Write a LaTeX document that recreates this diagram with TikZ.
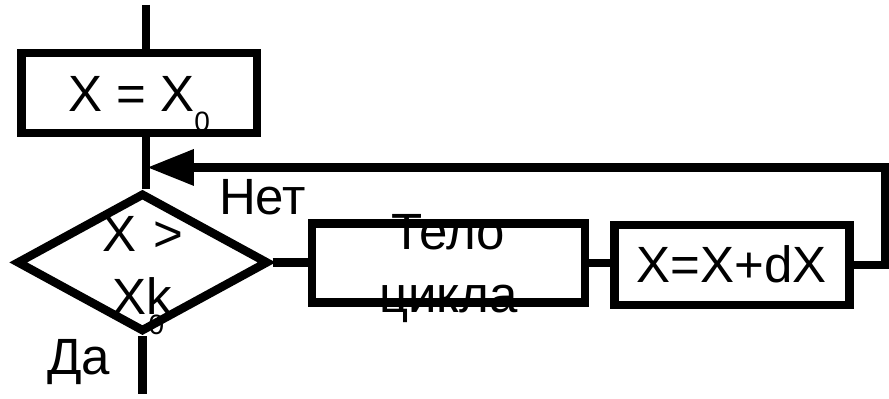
\documentclass[tikz,border=0pt]{standalone}
\usepackage{fontspec}
\setmainfont{Liberation Sans}
\usetikzlibrary{shapes.geometric,arrows.meta}
\newcommand{\subidx}[1]{\raisebox{-20pt}{\fontsize{28}{28}\selectfont #1}}
\tikzset{
  flowline/.style={line width=8.5pt},
  block/.style={draw, line width=8.5pt, inner sep=0pt, font=\fontsize{51}{63}\selectfont},
  decision/.style={draw, diamond, line width=8.5pt, inner sep=0pt},
  caption/.style={inner sep=0pt, font=\fontsize{51}{63}\selectfont},
}

\begin{document}
\begin{tikzpicture}[x=1pt, y=-1pt]
  \fill[white] (0,0) rectangle (889,394);

  % blocks
  \node[block, minimum width=235.5pt, minimum height=80pt, text height=38pt, text depth=0pt] (init) at (139.25,93) {X = X\subidx{0}};
  \node[caption, text width=120pt, align=center, anchor=base] (condtext) at (142.5,252) {X >\\Xk\llap{\subidx{0}\kern8pt}};
  \node[decision, minimum width=252pt, minimum height=139pt] (cond) at (142.5,262.5) {};
  \node[block, minimum width=273pt, minimum height=79pt, text width=240pt, align=center, text height=10pt, text depth=36pt] (body) at (448.5,263) {Тело\\цикла};
  \node[block, minimum width=235pt, minimum height=80pt, text height=36pt, text depth=0pt] (incr) at (732,265) {X=X+dX};

  % labels
  \node[caption, anchor=base west] (no) at (219,215) {Нет};
  \node[caption, anchor=base west] (yes) at (47,375) {Да};

  % connectors
  \coordinate (start) at (146,5);
  \coordinate (stop) at (142.5,394);
  \coordinate (corner) at (885,167.5);
  \coordinate (merge) at (148,167.5);
  \draw[flowline] (start) -- (start |- init.north);
  \draw[flowline] (start |- init.south) -- (start |- cond.north);
  \draw[flowline] (cond.south) -- (stop);
  \draw[flowline] (cond.east) -- (cond.east -| body.west);
  \draw[flowline] (body.east) -- (body.east -| incr.west);
  \draw[flowline, -{Triangle[length=46pt, width=37pt, line width=0pt]}] (incr.east) -| (corner) -- (merge);
\end{tikzpicture}
\end{document}
